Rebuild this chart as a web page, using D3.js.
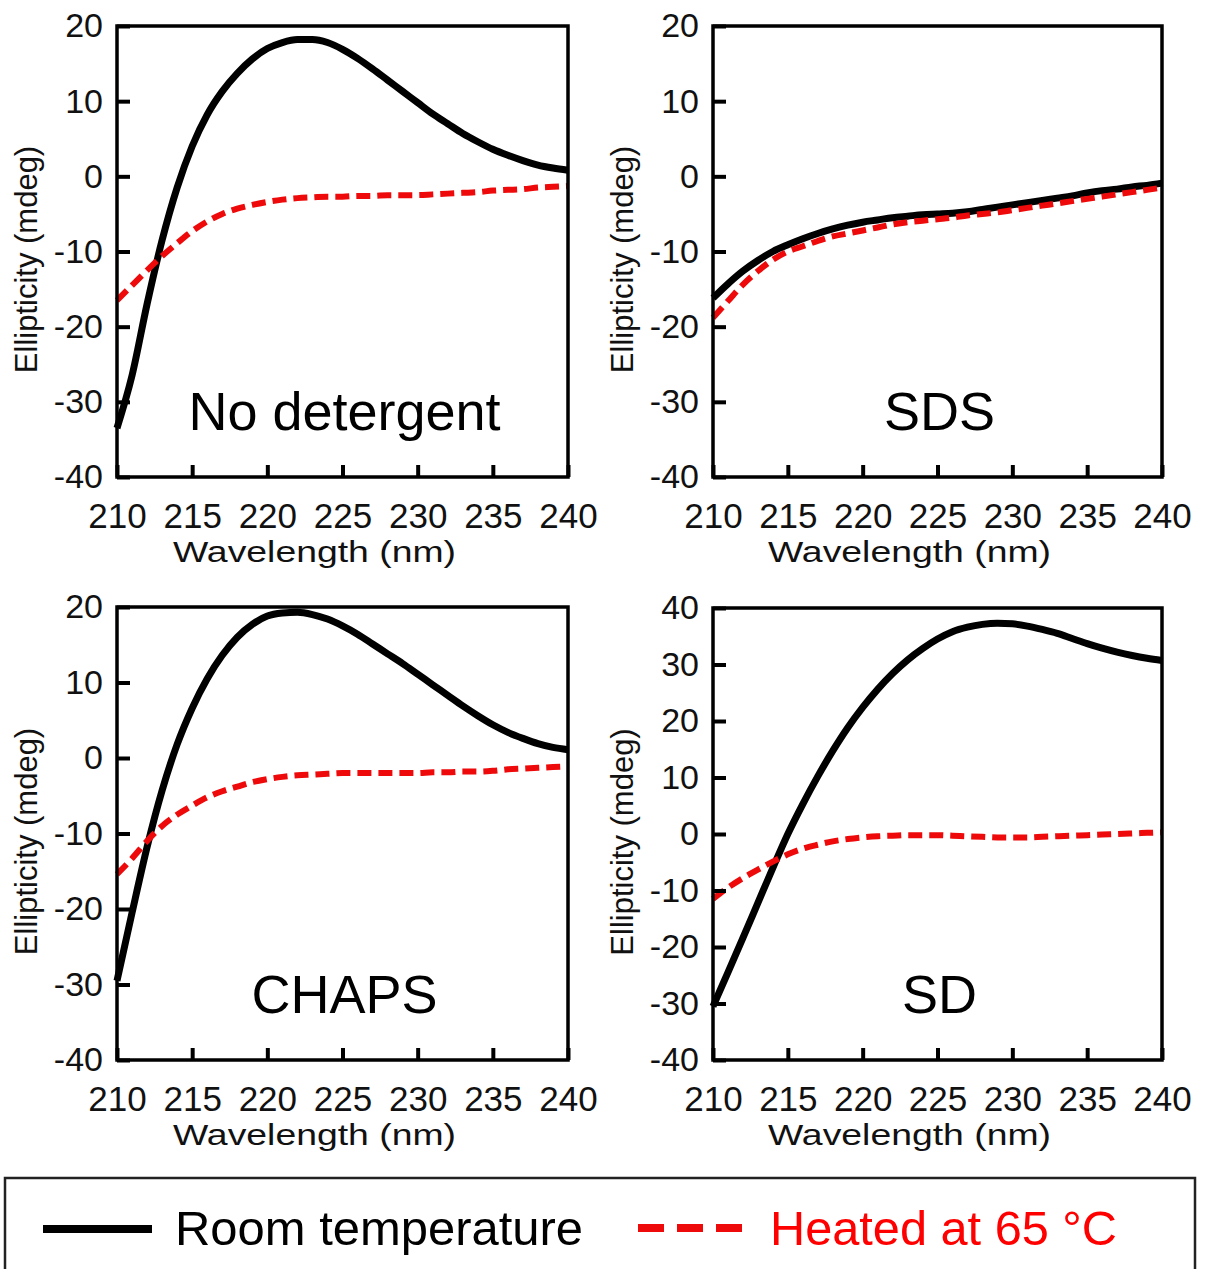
<!DOCTYPE html>
<html>
<head>
<meta charset="utf-8">
<script src="https://cdn.jsdelivr.net/npm/d3@7"></script>
<style>
  body { margin: 0; background: #fff; }
  svg { display: block; font-family: "Liberation Sans", Arial, sans-serif; }
</style>
</head>
<body>
<div id="chart"></div>
<script>
// wavelength grid (nm)
var wavelength = [210, 211, 212, 213, 214, 215, 216, 217, 218, 219, 220,
                  221, 222, 223, 224, 225, 226, 227, 228, 229, 230,
                  231, 232, 233, 234, 235, 236, 237, 238, 239, 240];

// ellipticity (mdeg)
var noDetRoom = [-33.5, -26.5, -17.0, -8.5, -1.5, 4.0, 8.2, 11.3, 13.7, 15.6, 17.0,
                 17.8, 18.2, 18.2, 17.8, 16.9, 15.7, 14.3, 12.8, 11.3, 9.8,
                 8.3, 7.0, 5.7, 4.6, 3.6, 2.8, 2.1, 1.5, 1.1, 0.8];
var noDetHeated = [-16.5, -14.5, -12.5, -10.6, -8.9, -7.3, -6.0, -5.0, -4.3, -3.8, -3.4,
                   -3.1, -2.9, -2.8, -2.7, -2.7, -2.6, -2.6, -2.5, -2.5, -2.5,
                   -2.4, -2.3, -2.2, -2.1, -1.9, -1.8, -1.7, -1.5, -1.4, -1.3];

var sdsRoom = [-16.2, -14.3, -12.6, -11.2, -10.0, -9.1, -8.3, -7.6, -7.0, -6.5, -6.1,
               -5.8, -5.5, -5.3, -5.1, -5.0, -4.9, -4.7, -4.4, -4.1, -3.8,
               -3.5, -3.2, -2.9, -2.6, -2.2, -1.9, -1.7, -1.4, -1.2, -0.9];
var sdsHeated = [-18.8, -16.6, -14.4, -12.6, -11.1, -10.0, -9.3, -8.6, -8.0, -7.6, -7.2,
                 -6.8, -6.4, -6.1, -5.9, -5.7, -5.5, -5.2, -5.0, -4.8, -4.5,
                 -4.2, -3.9, -3.6, -3.3, -3.0, -2.7, -2.4, -2.1, -1.8, -1.5];

var chapsRoom = [-29.5, -20.5, -11.8, -4.3, 1.8, 6.6, 10.5, 13.6, 16.0, 17.7, 18.8,
                 19.2, 19.3, 19.0, 18.4, 17.5, 16.4, 15.1, 13.8, 12.5, 11.1,
                 9.7, 8.3, 6.9, 5.6, 4.4, 3.4, 2.6, 1.9, 1.4, 1.1];
var chapsHeated = [-15.4, -13.3, -11.0, -9.0, -7.5, -6.3, -5.2, -4.4, -3.8, -3.2, -2.8,
                   -2.5, -2.3, -2.2, -2.1, -2.0, -2.0, -2.0, -2.0, -2.0, -2.0,
                   -1.9, -1.9, -1.8, -1.8, -1.7, -1.5, -1.4, -1.3, -1.2, -1.1];

var sdRoom = [-30.5, -24.5, -18.4, -12.2, -6.0, 0.0, 5.3, 10.2, 14.7, 18.8, 22.4,
              25.6, 28.4, 30.8, 32.8, 34.5, 35.8, 36.6, 37.1, 37.3, 37.2,
              36.8, 36.2, 35.5, 34.6, 33.7, 32.9, 32.2, 31.6, 31.1, 30.7];
var sdHeated = [-11.5, -9.5, -7.8, -6.3, -4.9, -3.6, -2.6, -1.9, -1.3, -0.9, -0.6,
                -0.4, -0.3, -0.2, -0.2, -0.2, -0.3, -0.4, -0.5, -0.6, -0.6,
                -0.6, -0.5, -0.4, -0.3, -0.2, -0.1, 0.0, 0.1, 0.2, 0.3];

var xTicks = [210, 215, 220, 225, 230, 235, 240];
var yTicksSmall = [-40, -30, -20, -10, 0, 10, 20];
var yTicksLarge = [-40, -30, -20, -10, 0, 10, 20, 30, 40];
var panelNames = ["No detergent", "SDS", "CHAPS", "SD"];
var legendLabels = ["Room temperature", "Heated at 65 °C"];

var width = 1207, height = 1269;
var red = "#ee0a0a";

var svg = d3.select("#chart").append("svg")
  .attr("width", width)
  .attr("height", height);

// panel boxes
var panels = [
  {name: panelNames[0], room: noDetRoom, heated: noDetHeated, ticks: yTicksSmall,
   left: 117, right: 568, top: 26, bottom: 477},
  {name: panelNames[1], room: sdsRoom, heated: sdsHeated, ticks: yTicksSmall,
   left: 713, right: 1162, top: 26, bottom: 477},
  {name: panelNames[2], room: chapsRoom, heated: chapsHeated, ticks: yTicksSmall,
   left: 117, right: 568, top: 607, bottom: 1060},
  {name: panelNames[3], room: sdRoom, heated: sdHeated, ticks: yTicksLarge,
   left: 713, right: 1162, top: 608, bottom: 1060}
];

// plain hyphen for negatives, like the original
function fmt(d) { return String(d); }

panels.forEach(function(p) {
  var x = d3.scaleLinear()
    .domain([210, 240])
    .range([p.left, p.right]);
  var y = d3.scaleLinear()
    .domain([d3.min(p.ticks), d3.max(p.ticks)])
    .range([p.bottom, p.top]);

  var g = svg.append("g");

  // curves
  var line = d3.line()
    .x(function(d) { return x(d.w); })
    .y(function(d) { return y(d.v); })
    .curve(d3.curveMonotoneX);

  var heated = wavelength.map(function(w, i) { return {w: w, v: p.heated[i]}; });
  var room = wavelength.map(function(w, i) { return {w: w, v: p.room[i]}; });

  g.append("path")
    .datum(room)
    .attr("d", line)
    .attr("fill", "none")
    .attr("stroke", "#000")
    .attr("stroke-width", 7);

  g.append("path")
    .datum(heated)
    .attr("d", line)
    .attr("fill", "none")
    .attr("stroke", red)
    .attr("stroke-width", 6)
    .attr("stroke-dasharray", "14,7");

  // frame
  g.append("rect")
    .attr("x", p.left)
    .attr("y", p.top)
    .attr("width", p.right - p.left)
    .attr("height", p.bottom - p.top)
    .attr("fill", "none")
    .attr("stroke", "#000")
    .attr("stroke-width", 3.5);

  // y axis, ticks pointing inward
  var yAxis = g.append("g")
    .attr("transform", "translate(" + p.left + ",0)")
    .call(d3.axisLeft(y)
      .tickValues(p.ticks)
      .tickFormat(fmt)
      .tickSizeInner(-13)
      .tickSizeOuter(0)
      .tickPadding(14));
  yAxis.select(".domain").remove();
  yAxis.selectAll(".tick line").attr("stroke-width", 4);
  yAxis.selectAll(".tick text")
    .attr("font-size", 34)
    .attr("font-family", "Liberation Sans, Arial, sans-serif")
    .attr("fill", "#111");

  // x axis, ticks pointing inward
  var xAxis = g.append("g")
    .attr("transform", "translate(0," + p.bottom + ")")
    .call(d3.axisBottom(x)
      .tickValues(xTicks)
      .tickFormat(fmt)
      .tickSizeInner(-12)
      .tickSizeOuter(0)
      .tickPadding(26));
  xAxis.select(".domain").remove();
  xAxis.selectAll(".tick line").attr("stroke-width", 4);
  xAxis.selectAll(".tick text")
    .attr("font-size", 35)
    .attr("font-family", "Liberation Sans, Arial, sans-serif")
    .attr("fill", "#111");

  // axis titles
  g.append("text")
    .attr("x", (p.left + p.right) / 2 - 28)
    .attr("y", p.bottom + 85)
    .attr("text-anchor", "middle")
    .attr("font-size", 30)
    .attr("textLength", 283)
    .attr("lengthAdjust", "spacingAndGlyphs")
    .attr("fill", "#111")
    .text("Wavelength (nm)");

  g.append("text")
    .attr("transform", "translate(" + (p.left - 80) + "," + ((p.top + p.bottom) / 2 + 8) + ") rotate(-90)")
    .attr("text-anchor", "middle")
    .attr("font-size", 31)
    .attr("fill", "#111")
    .text("Ellipticity (mdeg)");

  // panel name
  g.append("text")
    .attr("x", (p.left + p.right) / 2 + 2)
    .attr("y", p.bottom - 47)
    .attr("text-anchor", "middle")
    .attr("font-size", 54)
    .attr("fill", "#000")
    .text(p.name);
});

// legend
var legend = svg.append("g");
legend.append("rect")
  .attr("x", 5)
  .attr("y", 1178)
  .attr("width", 1190)
  .attr("height", 110)
  .attr("fill", "none")
  .attr("stroke", "#222")
  .attr("stroke-width", 2.5);

legend.append("line")
  .attr("x1", 43).attr("x2", 152)
  .attr("y1", 1229).attr("y2", 1229)
  .attr("stroke", "#000")
  .attr("stroke-width", 8);
legend.append("text")
  .attr("x", 175)
  .attr("y", 1245)
  .attr("font-size", 49)
  .attr("textLength", 408)
  .attr("lengthAdjust", "spacingAndGlyphs")
  .attr("fill", "#000")
  .text(legendLabels[0]);

legend.append("line")
  .attr("x1", 638).attr("x2", 742)
  .attr("y1", 1228).attr("y2", 1228)
  .attr("stroke", red)
  .attr("stroke-width", 8)
  .attr("stroke-dasharray", "26,13");
legend.append("text")
  .attr("x", 770)
  .attr("y", 1245)
  .attr("font-size", 49)
  .attr("textLength", 347)
  .attr("lengthAdjust", "spacingAndGlyphs")
  .attr("fill", "#ff0000")
  .text(legendLabels[1]);
</script>
</body>
</html>
